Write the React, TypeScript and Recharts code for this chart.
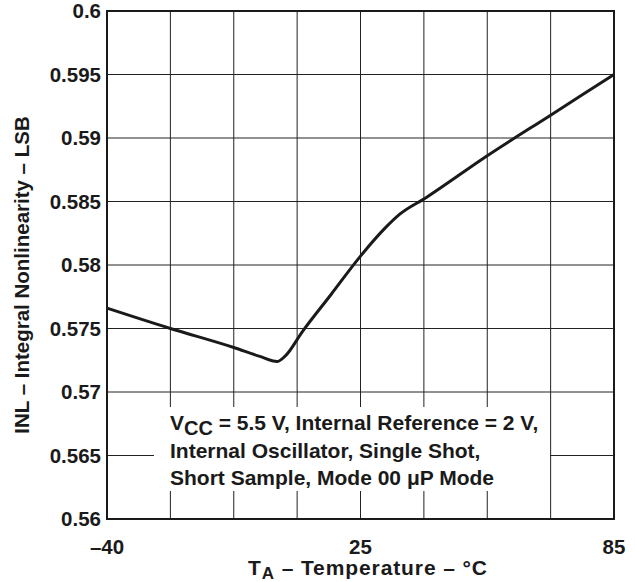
import React from 'react';
import {
  LineChart, Line, XAxis, YAxis, CartesianGrid, ReferenceArea,
} from 'recharts';

// temperature (°C) and INL (LSB)
const temps = [-40, -23.75, -7.5, -0.8, 3.6, 5.6, 10.2, 17.5, 25, 30.8, 34.3, 40.5, 55, 70, 85];
const inl = [0.5766, 0.575, 0.5735, 0.5728, 0.5724, 0.5728, 0.5748, 0.5777, 0.5807, 0.5829, 0.584, 0.5853, 0.5886, 0.5918, 0.595];

// x axis is drawn on 8 grid divisions: -40..25 on the first four, 25..85 on the last four
const xGrid = [0, 1, 2, 3, 4, 5, 6, 7, 8];
const xTickLabels = ['–40', '', '', '', '25', '', '', '', '85'];
const yTicks = [0.56, 0.565, 0.57, 0.575, 0.58, 0.585, 0.59, 0.595, 0.6];
const yTickLabels = ['0.56', '0.565', '0.57', '0.575', '0.58', '0.585', '0.59', '0.595', '0.6'];

const toGrid = (t: number) => (t <= 25 ? ((t + 40) / 65) * 4 : 4 + ((t - 25) / 60) * 4);

const data = temps.map((t, i) => ({ g: toGrid(t), inl: inl[i] }));

const FONT = '"Liberation Sans", Arial, Helvetica, sans-serif';
const INK = '#1a1a1a';
const tickStyle = { fill: INK, fontSize: 20.5, fontWeight: 700, fontFamily: FONT };

const XTitle = ({ viewBox }: any) => {
  const cx = viewBox.x + viewBox.width / 2 + 7;
  return (
    <text
      x={cx}
      y={575}
      textAnchor="middle"
      fill={INK}
      fontSize={21}
      fontWeight={700}
      fontFamily={FONT}
      textLength={239}
      lengthAdjust="spacing"
    >
      <tspan>T</tspan>
      <tspan dy={4} fontSize={17}>A</tspan>
      <tspan dy={-4}> – Temperature – °C</tspan>
    </text>
  );
};

const YTitle = ({ viewBox }: any) => {
  const cy = viewBox.y + viewBox.height / 2 + 10;
  return (
    <text
      x={29}
      y={cy}
      transform={`rotate(-90 29 ${cy})`}
      textAnchor="middle"
      fill={INK}
      fontSize={20.5}
      fontWeight={700}
      fontFamily={FONT}
    >
      INL – Integral Nonlinearity – LSB
    </text>
  );
};

export default function App() {
  return (
    <div style={{ position: 'relative', width: 635, height: 582, background: '#fff' }}>
      <style>{'body{margin:0}'}</style>
      <LineChart width={635} height={582} data={data} margin={{ top: 11, right: 21, left: 0, bottom: 0 }}>
        <CartesianGrid stroke="#222" strokeWidth={1} />
        <XAxis
          dataKey="g"
          type="number"
          domain={[0, 8]}
          ticks={xGrid}
          interval={0}
          tickFormatter={(v: number) => xTickLabels[v] ?? ''}
          tickLine={false}
          axisLine={false}
          tickSize={6}
          tickMargin={14}
          tick={tickStyle}
          height={63}
          label={<XTitle />}
        />
        <YAxis
          type="number"
          domain={[0.56, 0.6]}
          ticks={yTicks}
          interval={0}
          tickFormatter={(v: number) => yTickLabels[yTicks.indexOf(v)] ?? ''}
          tickLine={false}
          axisLine={false}
          tickSize={6}
          tickMargin={0}
          tick={tickStyle}
          width={107}
          label={<YTitle />}
        />
        <ReferenceArea x1={0} x2={8} y1={0.56} y2={0.6} fill="none" stroke={INK} strokeWidth={2} />
        <Line
          type="monotone"
          dataKey="inl"
          stroke={INK}
          strokeWidth={3}
          dot={false}
          isAnimationActive={false}
        />
      </LineChart>
      <div
        style={{
          position: 'absolute',
          left: 154,
          top: 407,
          width: 396,
          height: 84,
          background: '#fff',
          boxSizing: 'border-box',
          paddingLeft: 16,
          paddingTop: 2,
          fontFamily: FONT,
          fontWeight: 700,
          fontSize: 21,
          lineHeight: '27px',
          color: INK,
          whiteSpace: 'nowrap',
        }}
      >
        <div>
          V<span style={{ position: 'relative', top: 5, fontSize: 20 }}>CC</span> = 5.5 V, Internal Reference = 2 V,
        </div>
        <div>Internal Oscillator, Single Shot,</div>
        <div>Short Sample, Mode 00 μP Mode</div>
      </div>
    </div>
  );
}
